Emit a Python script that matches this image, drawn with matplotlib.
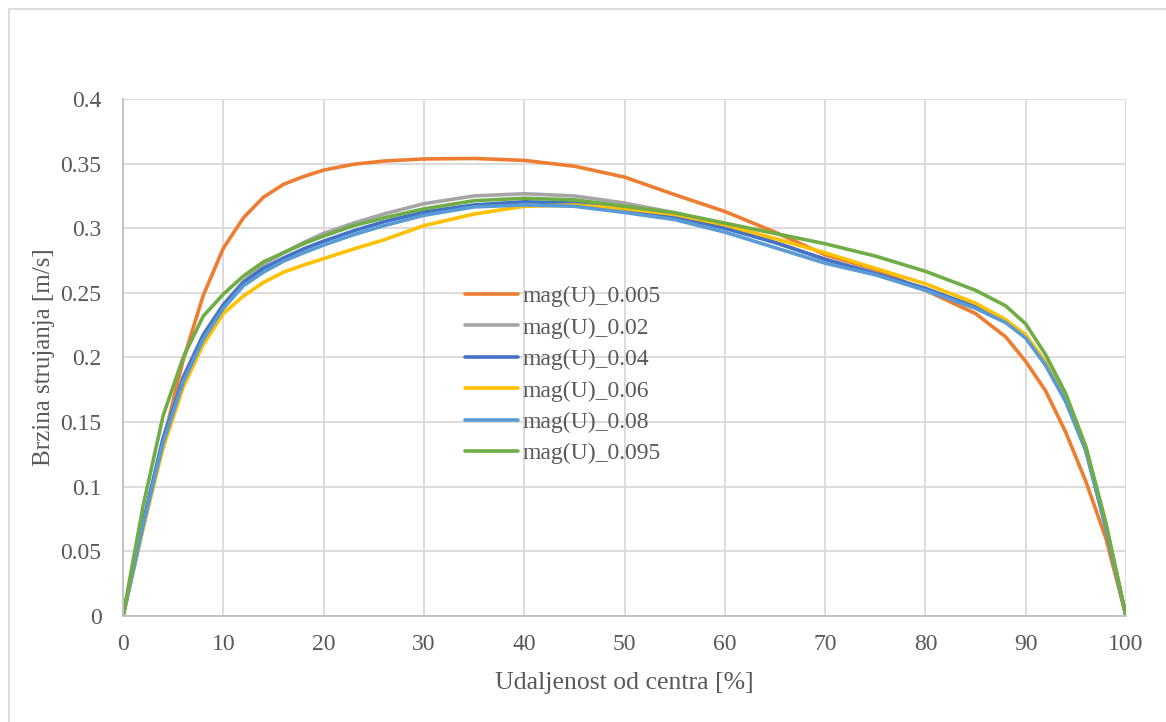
import numpy as np
import matplotlib.pyplot as plt
from matplotlib.patches import Rectangle

plt.rcParams['font.family'] = ['Liberation Serif', 'DejaVu Serif']

# distance from centre [%]
x = [0, 2, 4, 6, 8, 10, 12, 14, 16, 18, 20, 23, 26, 30, 35, 40, 45, 50,
     55, 60, 65, 70, 75, 80, 85, 88, 90, 92, 94, 96, 98, 100]

# velocity magnitude [m/s] for each case
u_0005 = [0, 0.068, 0.135, 0.198, 0.248, 0.2845, 0.308, 0.324, 0.334, 0.340, 0.345, 0.3495,
          0.352, 0.3536, 0.354, 0.3525, 0.348, 0.3396, 0.326, 0.313, 0.297, 0.2795, 0.268,
          0.252, 0.234, 0.216, 0.197, 0.174, 0.142, 0.104, 0.060, 0]
u_002 = [0, 0.072, 0.138, 0.185, 0.218, 0.241, 0.259, 0.272, 0.281, 0.289, 0.296, 0.304,
         0.311, 0.319, 0.325, 0.3267, 0.325, 0.3195, 0.312, 0.302, 0.289, 0.276, 0.265,
         0.252, 0.240, 0.228, 0.217, 0.196, 0.168, 0.130, 0.070, 0]
u_004 = [0, 0.072, 0.137, 0.184, 0.217, 0.2405, 0.258, 0.269, 0.277, 0.284, 0.290, 0.298,
         0.305, 0.3125, 0.318, 0.3205, 0.3195, 0.3147, 0.309, 0.300, 0.289, 0.276, 0.265,
         0.2535, 0.239, 0.228, 0.216, 0.194, 0.166, 0.128, 0.068, 0]
u_006 = [0, 0.068, 0.130, 0.177, 0.210, 0.234, 0.2475, 0.258, 0.266, 0.2715, 0.2765, 0.284,
         0.291, 0.302, 0.311, 0.317, 0.318, 0.3152, 0.3107, 0.3027, 0.292, 0.281, 0.269,
         0.257, 0.242, 0.2293, 0.2175, 0.196, 0.168, 0.130, 0.070, 0]
u_008 = [0, 0.070, 0.134, 0.181, 0.214, 0.238, 0.2555, 0.266, 0.2745, 0.281, 0.287, 0.295,
         0.302, 0.310, 0.3165, 0.318, 0.317, 0.3122, 0.3067, 0.297, 0.285, 0.273, 0.264,
         0.252, 0.238, 0.227, 0.215, 0.194, 0.166, 0.128, 0.068, 0]
u_0095 = [0, 0.085, 0.155, 0.200, 0.232, 0.249, 0.263, 0.274, 0.281, 0.288, 0.294, 0.302,
          0.308, 0.315, 0.3213, 0.3232, 0.322, 0.317, 0.312, 0.304, 0.296, 0.288, 0.2785,
          0.2667, 0.252, 0.240, 0.226, 0.202, 0.172, 0.131, 0.072, 0]

labels = ['mag(U)_0.005', 'mag(U)_0.02', 'mag(U)_0.04',
          'mag(U)_0.06', 'mag(U)_0.08', 'mag(U)_0.095']
series = [u_0005, u_002, u_004, u_006, u_008, u_0095]
colors = ['#ED7D31', '#A5A5A5', '#4472C4', '#FFC000', '#5B9BD5', '#70AD47']

fig = plt.figure(figsize=(11.66, 7.22), dpi=100)
ax = fig.add_axes([123/1166, 1-616/722, (1126-123)/1166, (616-99)/722])

for y, lab, c in zip(series, labels, colors):
    ax.plot(x, y, color=c, lw=2.6, label=lab, solid_capstyle='round')

ax.set_xlim(0, 100)
ax.set_ylim(0, 0.4)
ax.set_xticks(np.arange(0, 101, 10))
ax.set_yticks(np.arange(0, 0.401, 0.05))
ax.set_yticklabels(['0', '0.05', '0.1', '0.15', '0.2', '0.25', '0.3', '0.35', '0.4'])
ax.grid(True, color='#d9d9d9', lw=1.3)
ax.set_axisbelow(True)
for s in ['top', 'right']:
    ax.spines[s].set_visible(False)
for s in ['left', 'bottom']:
    ax.spines[s].set_color('#bfbfbf')
    ax.spines[s].set_linewidth(1.3)
ax.tick_params(length=0, labelsize=17, colors='#595959')
ax.tick_params(axis='y', pad=15.5)
ax.tick_params(axis='x', pad=13)

ax.set_xlabel('Udaljenost od centra [%]', fontsize=18.5, color='#595959', labelpad=12)
ax.set_ylabel('Brzina strujanja [m/s]', fontsize=18, color='#595959', labelpad=4)

leg = ax.legend(loc='center left', bbox_to_anchor=(0.341, 0.466), frameon=False,
                fontsize=17, handlelength=2.25, handletextpad=0.2,
                labelspacing=0.42, borderpad=0, borderaxespad=0)
for t in leg.get_texts():
    t.set_color('#595959')

fig.patches.append(Rectangle((9/1166, -0.05), 1.1, 1-9/722+0.05, transform=fig.transFigure,
                             fill=False, edgecolor='#d9d9d9', lw=1.3))

fig.savefig('out.png', dpi=100)
